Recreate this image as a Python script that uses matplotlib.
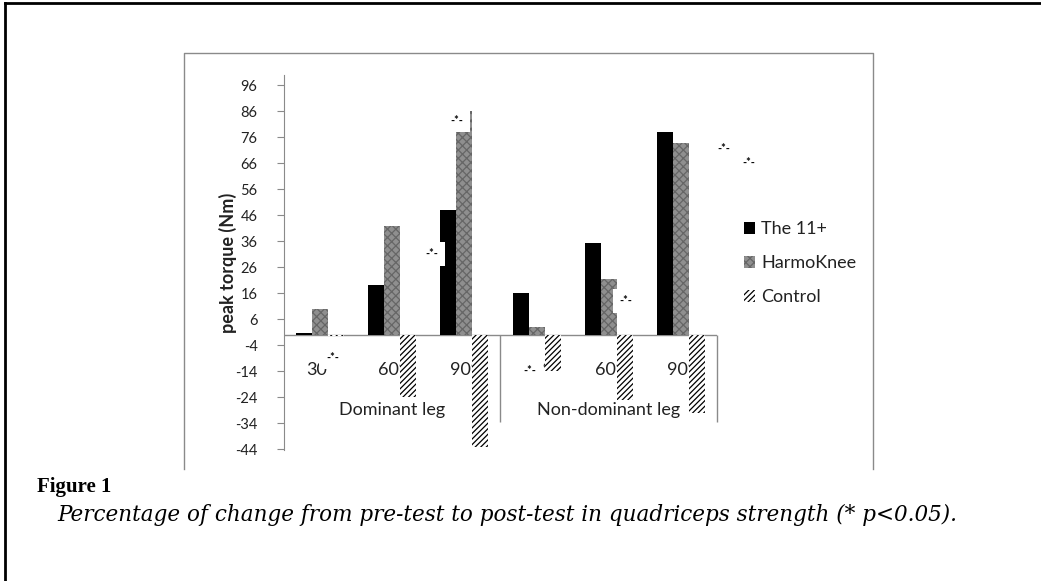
import numpy as np
import matplotlib
matplotlib.use("Agg")
import matplotlib.pyplot as plt
from matplotlib.lines import Line2D
from matplotlib.patches import Patch

# ── Datos ─────────────────────────────────────────────────────────────────────
categorias = ["30°", "60°", "90°", "30°", "60°", "90°"]
grupos = ["Dominant leg", "Non-dominant leg"]
the11 = [0.7, 19, 48, 16, 35.5, 78]
harmoknee = [10, 42, 86, 3, 21.5, 74]
control = [-0.6, -24, -43, -14, -25, -30]
series = ["The 11+", "HarmoKnee", "Control"]
y_ticks = list(range(96, -45, -10))

# asteriscos (* p<0.05), posición en unidades de datos
star_x = [0.17, 1.55, 1.90, 2.91, 4.24, 5.60, 5.94]
star_y = [-8.5, 31.2, 82.7, -13.5, 13.1, 71.9, 66.2]

# ── Estilos ───────────────────────────────────────────────────────────────────
FONT = "Lato"
GRIS = "#8a8a8a"
TEXTO = "#222222"
W = 0.222
HK = dict(facecolor="#8f8f8f", edgecolor="#666666", hatch="xxxx", linewidth=0)
CT = dict(facecolor="white", edgecolor="black", hatch="//////", linewidth=0)
plt.rcParams["font.family"] = FONT
plt.rcParams["hatch.linewidth"] = 0.9
plt.rcParams["axes.unicode_minus"] = False

fig = plt.figure(figsize=(10.41, 5.81), dpi=100)
ax = fig.add_axes([284 / 1041, 1 - 450 / 581, 433 / 1041, 375 / 581])

x = np.arange(len(categorias))
ax.bar(x - W, the11, W, color="black", zorder=2)
ax.bar(x, harmoknee, W, zorder=2, **HK)
ax.bar(x + W, control, W, zorder=2, **CT)

ax.set_xlim(-0.5, 5.5)
ax.set_ylim(-44.3, 100)
ax.set_yticks(y_ticks)
ax.set_xticks([])
for s in ["top", "right", "bottom"]:
    ax.spines[s].set_visible(False)
ax.spines["left"].set_color(GRIS)
ax.tick_params(axis="y", colors=GRIS, length=5, pad=14, labelsize=10.5,
               labelcolor=TEXTO)
ax.axhline(0, color=GRIS, lw=1, zorder=1)

# eje de categorías en dos niveles
ax.vlines([2.5, 5.5], -33.5, 0, color=GRIS, lw=1, clip_on=False)
for xi, lab in zip(x, categorias):
    ax.annotate(lab, (xi, 0), xytext=(0, -35), textcoords="offset pixels",
                ha="center", va="center", fontsize=13, color=TEXTO,
                annotation_clip=False, zorder=1)
for gi, lab in enumerate(grupos):
    ax.annotate(lab, (1 + 3 * gi, 0), xytext=(0, -75), textcoords="offset pixels",
                ha="center", va="center", fontsize=13, color=TEXTO,
                annotation_clip=False, zorder=1)

for sx, sy in zip(star_x, star_y):
    ax.text(sx, sy, "-*-", fontsize=8, fontweight="bold", ha="center", va="center",
            bbox=dict(boxstyle="square,pad=0.6", fc="white", ec="none"),
            zorder=5, clip_on=False)

ax.set_ylabel("peak torque (Nm)", fontsize=13, fontweight="bold", color=TEXTO)
ax.yaxis.set_label_coords(-0.109, 0.5)

handles = [Patch(facecolor="black"), Patch(**HK), Patch(**CT)]
ax.legend(handles, series, loc="center left", bbox_to_anchor=(1.025, 0.498),
          frameon=False, fontsize=13, handlelength=0.6, handleheight=0.6,
          handletextpad=0.35, labelspacing=1.0, labelcolor=TEXTO)

# marcos: página (negro) y área del gráfico (gris)
fig.add_artist(Line2D([5 / 1041, 5 / 1041], [0, 1 - 3 / 581], color="black", lw=2))
fig.add_artist(Line2D([5 / 1041, 1], [1 - 3 / 581, 1 - 3 / 581], color="black", lw=2))
fig.add_artist(Line2D([184 / 1041, 184 / 1041, 873 / 1041, 873 / 1041],
                      [1 - 469 / 581, 1 - 53 / 581, 1 - 53 / 581, 1 - 469 / 581],
                      color=GRIS, lw=1))

fig.text(37 / 1041, 1 - 487 / 581, "Figure 1", family="Liberation Serif",
         fontweight="bold", fontsize=15, va="center")
fig.text(57 / 1041, 1 - 515 / 581,
         "Percentage of change from pre-test to post-test in quadriceps strength (* p<0.05).",
         family="DejaVu Serif", style="italic", fontsize=15.5, va="center")

fig.savefig("out.png", dpi=100)
